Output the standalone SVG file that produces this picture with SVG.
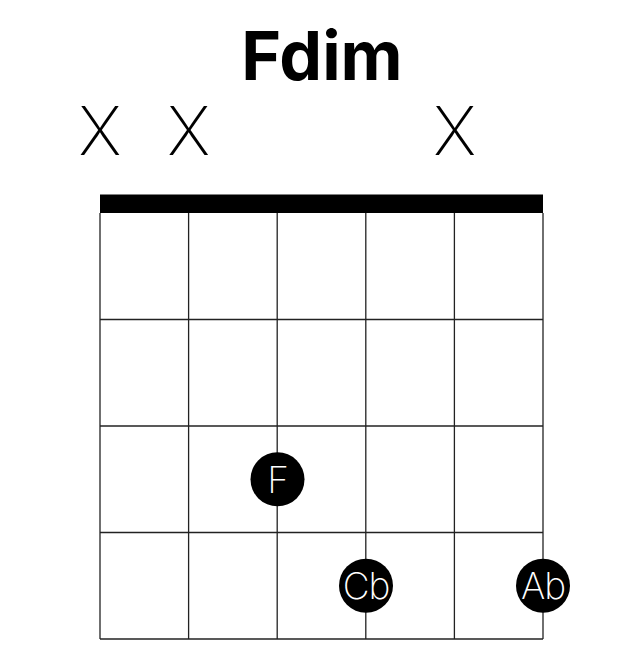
<svg xmlns="http://www.w3.org/2000/svg" width="644" height="656" viewBox="0 0 644 656">
<style>
.title{font-family:Inter,"Liberation Sans",sans-serif;font-weight:700;font-size:68px;fill:#000;text-anchor:middle}
.mute{font-family:Inter,"Liberation Sans",sans-serif;font-weight:200;font-size:67px;fill:#000;text-anchor:middle}
.grid line{stroke:#222;stroke-width:1.3}
.dot circle{fill:#000}
.dot text{font-family:Inter,"Liberation Sans",sans-serif;font-weight:200;font-size:37px;fill:#fff;text-anchor:middle;letter-spacing:-1px}
</style>
<rect width="644" height="656" fill="#fff"/>
<text id="title" class="title" x="322" y="80">Fdim</text>
<g id="mutes">
<text class="mute" x="100" y="155">X</text>
<text class="mute" x="188.7" y="155">X</text>
<text class="mute" x="454.7" y="155">X</text>
</g>
<g id="fretboard" class="grid">
<rect x="100" y="194.5" width="443" height="18.5" fill="#000"/>
<line x1="100" y1="213" x2="100" y2="639"/>
<line x1="188.6" y1="213" x2="188.6" y2="639"/>
<line x1="277.2" y1="213" x2="277.2" y2="639"/>
<line x1="365.8" y1="213" x2="365.8" y2="639"/>
<line x1="454.4" y1="213" x2="454.4" y2="639"/>
<line x1="543" y1="213" x2="543" y2="639"/>
<line x1="100" y1="319.5" x2="543" y2="319.5"/>
<line x1="100" y1="426" x2="543" y2="426"/>
<line x1="100" y1="532.5" x2="543" y2="532.5"/>
<line x1="100" y1="639" x2="543" y2="639"/>
</g>
<g id="dot-F" class="dot"><circle cx="277.5" cy="479.3" r="27"/><text x="277.5" y="492.5">F</text></g>
<g id="dot-Cb" class="dot"><circle cx="366" cy="585.7" r="27"/><text x="366" y="599">Cb</text></g>
<g id="dot-Ab" class="dot"><circle cx="543" cy="585.7" r="27"/><text x="543" y="599">Ab</text></g>
</svg>
